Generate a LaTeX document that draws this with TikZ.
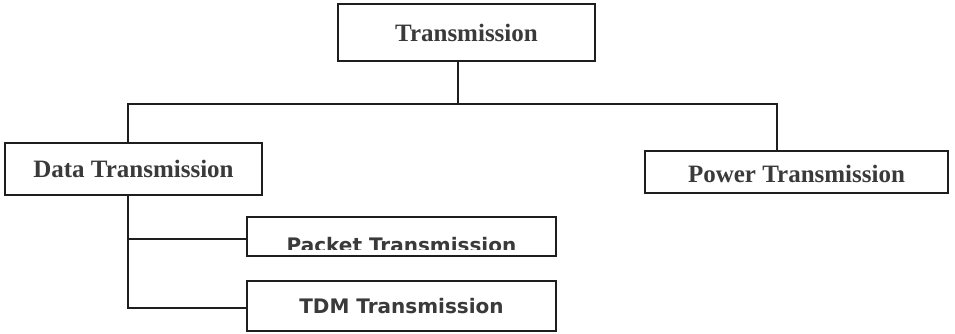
\documentclass[tikz,border=0pt]{standalone}
\usepackage{fontspec}
\setmainfont{Liberation Serif}
\newfontfamily\boxsans{DejaVu Sans}
\definecolor{txtgray}{HTML}{3A3A3A}
\definecolor{linegray}{HTML}{1E1E1E}
\tikzset{
  boxnode/.style={draw=linegray, line width=1.6pt, inner sep=0pt, fill=white, text=txtgray},
  serifbox/.style={boxnode, font=\fontsize{25}{30}\selectfont\bfseries},
  sansbox/.style={boxnode, font=\boxsans\fontsize{20}{24}\selectfont\bfseries},
  conn/.style={draw=linegray, line width=1.6pt}
}
\begin{document}
\begin{tikzpicture}[x=1pt, y=-1pt]
\useasboundingbox[fill=white] (0,0) rectangle (955,333);
% boxes
\node[serifbox, minimum width=257pt, minimum height=57pt] (tr) at (466.5,32.5) {Transmission};
\node[serifbox, minimum width=257pt, minimum height=52pt] (dt) at (133.5,169) {Data Transmission};
\node[serifbox, minimum width=303pt, minimum height=42pt, text depth=0pt] (pw) at (796.5,172) {\raisebox{-4pt}{Power Transmission}};
\node[boxnode, minimum width=309pt, minimum height=39pt] (pk) at (401.5,236.5) {};
\begin{scope}
  \clip (250,219) rectangle (553,249.5);
  \node[font=\boxsans\fontsize{20}{24}\selectfont\bfseries, text=txtgray, anchor=base] (pkt) at (401.5,252) {Packet Transmission};
\end{scope}
\node[sansbox, minimum width=309pt, minimum height=50pt] (td) at (401.5,306) {TDM Transmission};
% junctions
\coordinate (jm) at (458,104);
\coordinate (jl) at (128,104);
\coordinate (jr) at (777,104);
\coordinate (bp) at (128,239);
\coordinate (bt) at (128,308);
% connectors
\draw[conn] (tr.south -| jm) -- (jm);
\draw[conn] (dt.north -| jl) -- (jl) -- (jr) -- (pw.north -| jr);
\draw[conn] (dt.south -| jl) -- (bt) -- (td.west |- bt);
\draw[conn] (bp) -- (pk.west |- bp);
\end{tikzpicture}
\end{document}
